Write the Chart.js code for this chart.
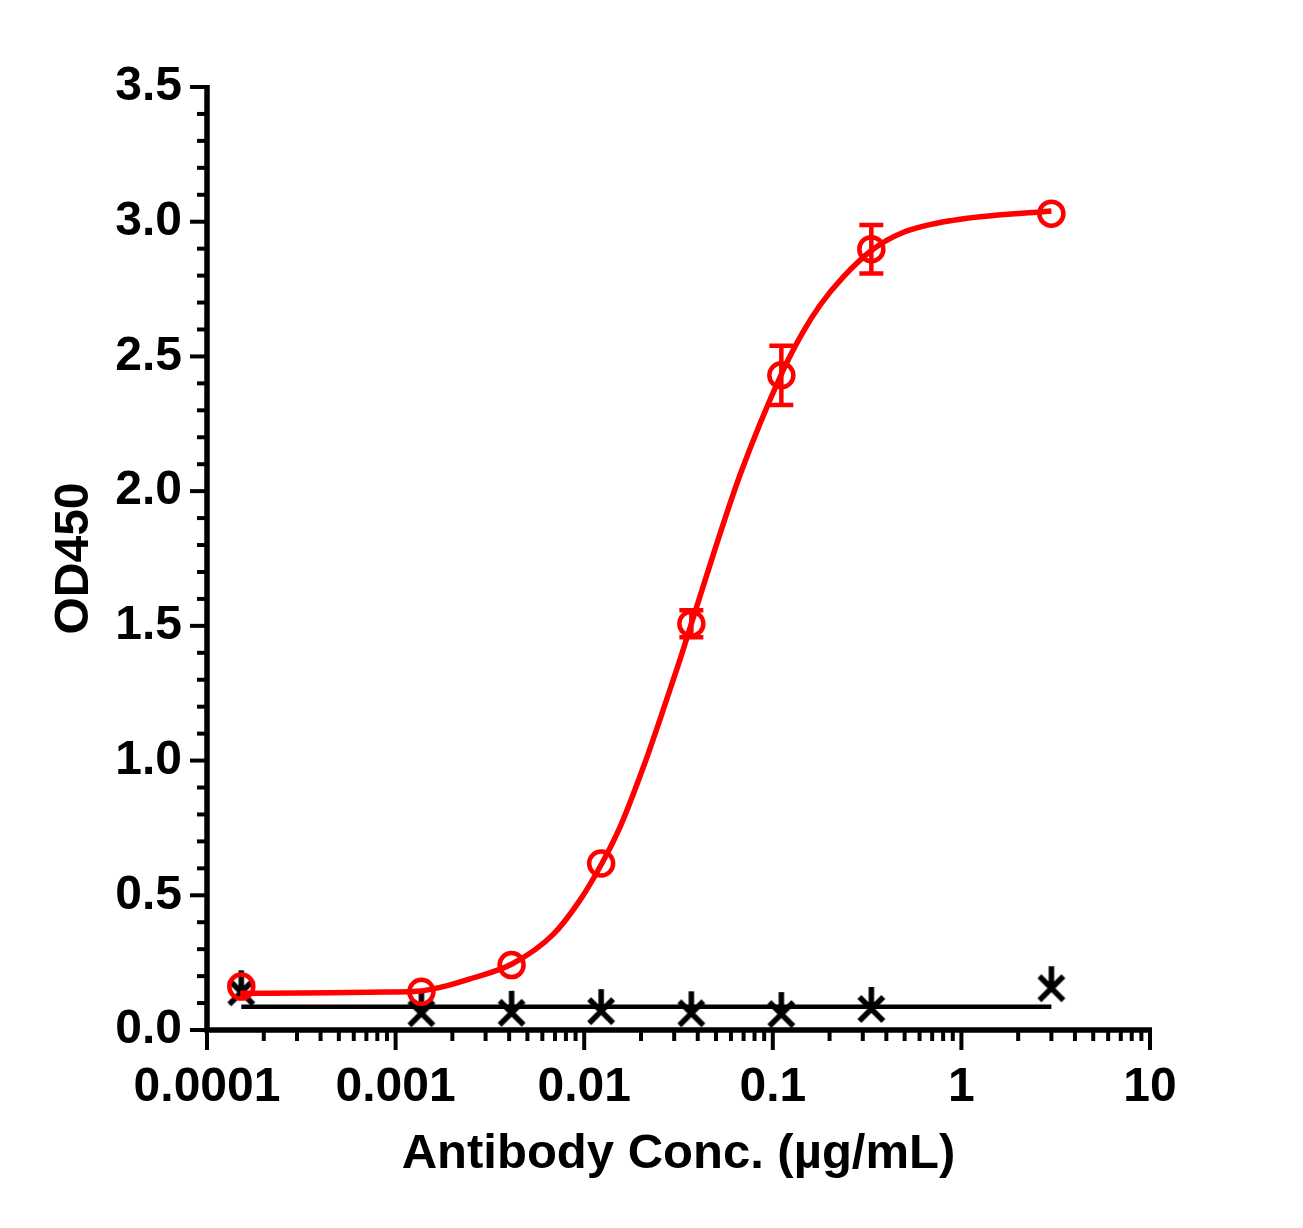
<!DOCTYPE html>
<html>
<head>
<meta charset="utf-8">
<script src="https://cdn.jsdelivr.net/npm/chart.js@4.4.1/dist/chart.umd.min.js"></script>
<style>
  html, body { margin: 0; padding: 0; background: #fff; }
  #wrap { width: 1303px; height: 1228px; }
</style>
</head>
<body>
<div id="wrap"><canvas id="od-chart" width="1303" height="1228"></canvas></div>
<script>
// ELISA binding curve: OD450 vs antibody concentration

const concentrations = [0.000152, 0.00137, 0.00412, 0.0123, 0.037, 0.111, 0.333, 3];
const antibodyMean = [0.161, 0.142, 0.241, 0.618, 1.508, 2.43, 2.898, 3.03];
const antibodyErr = [0, 0, 0, 0, 0.05, 0.11, 0.09, 0];
const controlMean = [0.14, 0.062, 0.064, 0.070, 0.062, 0.059, 0.078, 0.155];

// fitted curves
const fitX = [0.00015, 0.00045, 0.0009, 0.00137, 0.00172, 0.00248, 0.00414, 0.00685, 0.0095, 0.0124,
              0.0155, 0.0206, 0.0273, 0.0322, 0.037, 0.0494, 0.067, 0.112, 0.1445, 0.178,
              0.2365, 0.336, 0.49, 0.90, 3.0];
const fitY = [0.136, 0.138, 0.141, 0.145, 0.158, 0.19, 0.245, 0.355, 0.482, 0.618,
              0.754, 0.976, 1.224, 1.375, 1.508, 1.785, 2.06, 2.44, 2.59, 2.69,
              2.795, 2.895, 2.96, 3.005, 3.04];
const controlFitX = [0.000152, 3];
const controlFitY = [0.086, 0.086];

// axis ticks
const xMajorTicks = [0.0001, 0.001, 0.01, 0.1, 1, 10];
const xTickLabels = ['0.0001', '0.001', '0.01', '0.1', '1', '10'];
const yMajorTicks = [0, 0.5, 1, 1.5, 2, 2.5, 3, 3.5];
const yTickLabels = ['0.0', '0.5', '1.0', '1.5', '2.0', '2.5', '3.0', '3.5'];

const FONT = 'Liberation Sans, Arial, Helvetica, sans-serif';
const RED = '#ff0000';

// minor ticks 2..9 inside each decade
function xTickList() {
    const list = [];
    xMajorTicks.forEach((v, i) => {
        list.push({ value: v, major: true });
        if (i < xMajorTicks.length - 1) {
            for (let m = 2; m <= 9; m++) list.push({ value: +(v * m).toPrecision(3), major: false });
        }
    });
    return list;
}

function yTickList() {
    const list = [];
    for (let i = 0; i <= 35; i++) {
        list.push({ value: i / 10, major: i % 5 === 0 });
    }
    return list;
}

// X marker with a short vertical stroke on top
function makeCrossMarker() {
    const c = document.createElement('canvas');
    c.width = 50; c.height = 50;
    const g = c.getContext('2d');
    g.strokeStyle = '#000';
    g.lineWidth = 5.5;
    g.lineCap = 'butt';
    g.beginPath();
    g.moveTo(13, 13); g.lineTo(37, 37);
    g.moveTo(37, 13); g.lineTo(13, 37);
    g.moveTo(25, 3); g.lineTo(25, 25);
    g.stroke();
    return c;
}

const axesPlugin = {
    id: 'prismAxes',
    beforeDatasetsDraw(chart) {
        const { ctx, chartArea } = chart;
        const xs = chart.scales.x, ys = chart.scales.y;
        const left = chartArea.left, bottom = chartArea.bottom;
        ctx.save();
        ctx.strokeStyle = '#000';
        ctx.lineCap = 'butt';

        // ticks
        ctx.lineWidth = 4;
        ys.ticks.forEach(t => {
            const y = ys.getPixelForValue(t.value);
            const len = t.major ? 17 : 10;
            ctx.beginPath();
            ctx.moveTo(left - len, y);
            ctx.lineTo(left, y);
            ctx.stroke();
        });
        xs.ticks.forEach(t => {
            const x = xs.getPixelForValue(t.value);
            const len = t.major ? 20 : 11;
            ctx.beginPath();
            ctx.moveTo(x, bottom);
            ctx.lineTo(x, bottom + len);
            ctx.stroke();
        });

        // axis lines
        ctx.lineWidth = 5.5;
        ctx.beginPath();
        ctx.moveTo(left, ys.getPixelForValue(3.5) - 2);
        ctx.lineTo(left, bottom + 2.75);
        ctx.moveTo(left - 2.75, bottom);
        ctx.lineTo(xs.getPixelForValue(10) + 2, bottom);
        ctx.stroke();
        ctx.restore();
    }
};

const errorBarPlugin = {
    id: 'errorBars',
    afterDatasetsDraw(chart) {
        const { ctx } = chart;
        const xs = chart.scales.x, ys = chart.scales.y;
        ctx.save();
        ctx.strokeStyle = RED;
        ctx.lineWidth = 4.5;
        concentrations.forEach((c, i) => {
            const e = antibodyErr[i];
            if (!e) return;
            const x = xs.getPixelForValue(c);
            const yTop = ys.getPixelForValue(antibodyMean[i] + e);
            const yBot = ys.getPixelForValue(antibodyMean[i] - e);
            ctx.beginPath();
            ctx.moveTo(x, yTop); ctx.lineTo(x, yBot);
            ctx.moveTo(x - 12, yTop); ctx.lineTo(x + 12, yTop);
            ctx.moveTo(x - 12, yBot); ctx.lineTo(x + 12, yBot);
            ctx.stroke();
        });
        ctx.restore();
    }
};

const toPoints = (xs, ys) => xs.map((x, i) => ({ x: x, y: ys[i] }));

const ctx = document.getElementById('od-chart');
new Chart(ctx, {
    type: 'scatter',
    data: {
        datasets: [
            {
                label: 'Antibody',
                data: toPoints(concentrations, antibodyMean),
                showLine: false,
                pointStyle: 'circle',
                pointRadius: 12,
                pointBorderWidth: 4.5,
                pointBorderColor: RED,
                pointBackgroundColor: 'rgba(0,0,0,0)',
                clip: false
            },
            {
                label: 'Antibody fit',
                data: toPoints(fitX, fitY),
                showLine: true,
                borderColor: RED,
                borderWidth: 5.5,
                pointRadius: 0,
                cubicInterpolationMode: 'monotone',
                clip: false
            },
            {
                label: 'Control',
                data: toPoints(concentrations, controlMean),
                showLine: false,
                pointStyle: makeCrossMarker(),
                pointRadius: 12,
                clip: false
            },
            {
                label: 'Control fit',
                data: toPoints(controlFitX, controlFitY),
                showLine: true,
                borderColor: '#000',
                borderWidth: 4.5,
                pointRadius: 0,
                clip: false
            }
        ]
    },
    options: {
        responsive: false,
        animation: false,
        layout: { padding: { top: 87, right: 153, bottom: 40, left: 42 } },
        plugins: {
            legend: { display: false },
            tooltip: { enabled: false }
        },
        scales: {
            x: {
                type: 'logarithmic',
                position: 'bottom',
                min: 0.0001,
                max: 10,
                afterBuildTicks: scale => { scale.ticks = xTickList(); },
                afterFit: scale => { scale.height = 158; },
                grid: { display: false, drawTicks: true, tickLength: 26 },
                border: { display: false },
                ticks: {
                    autoSkip: false,
                    maxRotation: 0,
                    padding: 3,
                    color: '#000',
                    font: { family: FONT, size: 48, weight: 'bold' },
                    callback: value => {
                        const i = xMajorTicks.findIndex(v => Math.abs(v - value) < v * 1e-6);
                        return i >= 0 ? xTickLabels[i] : '';
                    }
                },
                title: {
                    display: true,
                    text: 'Antibody Conc. (µg/mL)',
                    color: '#000',
                    font: { family: FONT, size: 49, weight: 'bold' },
                    padding: { top: 4, bottom: 4 }
                }
            },
            y: {
                type: 'linear',
                min: 0,
                max: 3.5,
                afterBuildTicks: scale => { scale.ticks = yTickList(); },
                afterFit: scale => { scale.width = 165; },
                grid: { display: false, drawTicks: true, tickLength: 22 },
                border: { display: false },
                ticks: {
                    autoSkip: false,
                    padding: 3,
                    color: '#000',
                    font: { family: FONT, size: 48, weight: 'bold' },
                    callback: value => {
                        const i = yMajorTicks.findIndex(v => Math.abs(v - value) < 1e-6);
                        return i >= 0 ? yTickLabels[i] : '';
                    }
                },
                title: {
                    display: true,
                    text: 'OD450',
                    color: '#000',
                    font: { family: FONT, size: 48, weight: 'bold' },
                    padding: { top: 4, bottom: 4 }
                }
            }
        }
    },
    plugins: [axesPlugin, errorBarPlugin]
});
</script>
</body>
</html>
